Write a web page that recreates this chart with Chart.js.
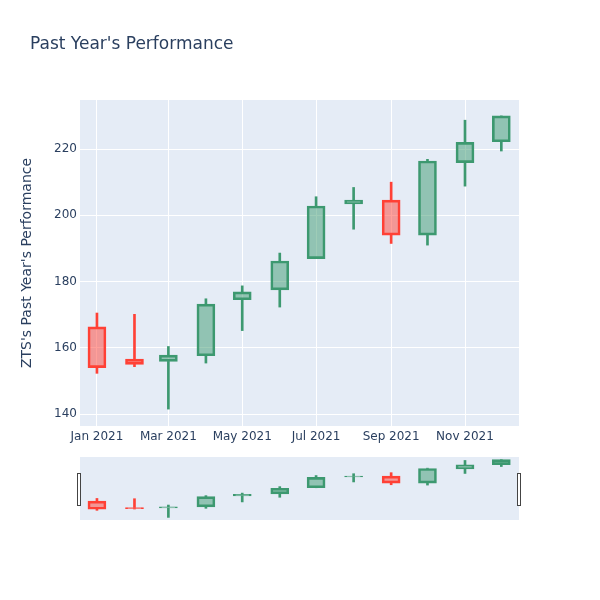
<!DOCTYPE html>
<html><head><meta charset="utf-8">
<script src="https://cdn.jsdelivr.net/npm/chart.js@4.4.1/dist/chart.umd.min.js"></script>
<style>
html,body{margin:0;padding:0;background:#fff;}
#wrap{position:relative;width:600px;height:600px;overflow:hidden;}
#title{position:absolute;left:30px;top:33px;font:17px "DejaVu Sans",sans-serif;color:#2a3f5f;white-space:nowrap;}
#main{position:absolute;left:0;top:0;}
#slider{position:absolute;left:0;top:450px;}
</style></head><body>
<div id="wrap">
<canvas id="main" width="600" height="600"></canvas>
<canvas id="slider" width="600" height="80"></canvas>
<div id="title">Past Year's Performance</div>
</div>
<script>
const dates = ['2021-01-01','2021-02-01','2021-03-01','2021-04-01','2021-05-01','2021-06-01','2021-07-01','2021-08-01','2021-09-01','2021-10-01','2021-11-01','2021-12-01'];
const openV  = [166.3, 156.6, 155.9, 157.6, 174.5, 177.5, 186.9, 203.4, 204.6, 194.0, 215.9, 222.2];
const highV  = [170.5, 170.1, 160.4, 174.8, 178.7, 188.6, 205.6, 208.4, 210.0, 216.9, 228.7, 230.0];
const lowV   = [152.3, 154.3, 141.5, 155.4, 165.2, 172.3, 186.9, 195.8, 191.5, 191.0, 208.8, 219.4];
const closeV = [154.0, 155.0, 157.8, 173.2, 176.9, 186.2, 202.8, 204.6, 194.0, 216.4, 222.0, 230.0];
const tickDates  = ['2021-01-01','2021-03-01','2021-05-01','2021-07-01','2021-09-01','2021-11-01'];
const tickLabels = ['Jan 2021','Mar 2021','May 2021','Jul 2021','Sep 2021','Nov 2021'];
const yTicks = [140,160,180,200,220];

const GREEN='#3D9970', GREENF='rgba(61,153,112,0.5)', RED='#FF4136', REDF='rgba(255,65,54,0.5)';
const FONT='"DejaVu Sans", sans-serif', TXT='#2a3f5f';
const day = d => (Date.parse(d) - Date.parse('2021-01-01'))/86400000;
const xs = dates.map(day);
const up = i => closeV[i] >= openV[i];

function makeSets(bodyW){
  const lineCol = xs.map((v,i)=> up(i)?GREEN:RED);
  const fillCol = xs.map((v,i)=> up(i)?GREENF:REDF);
  return [
    {data: xs.map((v,i)=>({x:v,y:[lowV[i],Math.min(openV[i],closeV[i])]})), backgroundColor: lineCol, borderWidth:0, barThickness:2, grouped:false},
    {data: xs.map((v,i)=>({x:v,y:[Math.max(openV[i],closeV[i]),highV[i]]})), backgroundColor: lineCol, borderWidth:0, barThickness:2, grouped:false},
    {data: xs.map((v,i)=>({x:v,y:[openV[i],closeV[i]]})), backgroundColor: fillCol, borderColor: lineCol, borderWidth:2, borderSkipped:false, barThickness:bodyW, grouped:false}
  ];
}
const bgPlugin = {id:'bg', beforeDraw(c){const a=c.chartArea,ctx=c.ctx;ctx.save();ctx.fillStyle='#e5ecf6';ctx.fillRect(a.left,a.top,a.right-a.left,a.bottom-a.top);ctx.restore();}};

new Chart(document.getElementById('main'), {
  type:'bar',
  data:{datasets: makeSets(18)},
  options:{
    responsive:false, animation:false,
    layout:{padding:{top:100,right:81,left:0,bottom:0}},
    plugins:{legend:{display:false},tooltip:{enabled:false}},
    scales:{
      x:{type:'linear', min:-14, max:348.6, offset:false,
        afterBuildTicks:s=>{s.ticks=tickDates.map(d=>({value:day(d)}));},
        afterFit:s=>{s.height=174;},
        grid:{color:'#ffffff',lineWidth:1,drawTicks:false,offset:false}, border:{display:false},
        ticks:{autoSkip:false,maxRotation:0,padding:4,color:TXT,font:{family:FONT,size:12},callback:(v,i)=>tickLabels[i]}},
      y:{min:136.4, max:234.8,
        afterBuildTicks:s=>{s.ticks=yTicks.map(v=>({value:v}));},
        afterFit:s=>{s.width=80;},
        grid:{color:'#ffffff',lineWidth:1,drawTicks:false}, border:{display:false},
        ticks:{padding:3,color:TXT,font:{family:FONT,size:12}},
        title:{display:true,text:"ZTS's Past Year's Performance",color:TXT,font:{family:FONT,size:14},padding:{top:19,bottom:0}}}
    }
  },
  plugins:[bgPlugin]
});

const handlePlugin = {id:'handles', afterDraw(c){const ctx=c.ctx;ctx.save();ctx.fillStyle='#ffffff';ctx.strokeStyle='#444444';ctx.lineWidth=1;
  [77.5,517.5].forEach(x=>{ctx.fillRect(x,23.5,3,32);ctx.strokeRect(x,23.5,3,32);});ctx.restore();}};

new Chart(document.getElementById('slider'), {
  type:'bar',
  data:{datasets: makeSets(18)},
  options:{
    responsive:false, animation:false,
    layout:{padding:{top:7,right:81,left:80,bottom:10}},
    plugins:{legend:{display:false},tooltip:{enabled:false}},
    scales:{
      x:{type:'linear',display:false,min:-14,max:348.6,offset:false},
      y:{display:false,min:137.5,max:234}
    }
  },
  plugins:[bgPlugin, handlePlugin]
});
</script>
</body></html>
